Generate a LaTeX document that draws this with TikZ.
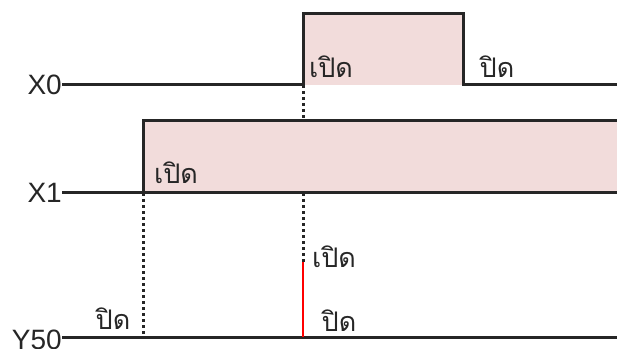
\documentclass[tikz,border=0pt]{standalone}
\usepackage{fontspec}
\setmainfont{Liberation Sans}
\newfontfamily\thaifont[Script=Thai]{Loma}
\definecolor{pulsefill}{HTML}{F2DCDB}
\begin{document}
\begin{tikzpicture}[x=1pt,y=1pt,
  sig/.style={line width=3pt,black!85},
  dotline/.style={line width=3pt,black!85,dash pattern=on 2.6pt off 3.4pt},
  lbl/.style={font=\fontsize{28}{28}\selectfont,inner sep=0pt,anchor=east,text=black!85},
  th/.style={font=\thaifont\fontsize{27}{27}\selectfont,inner sep=0pt,text=black!85}]
\useasboundingbox (0,0) rectangle (617,348);
% signal rows
\coordinate (x0s) at (62,263); \coordinate (x0e) at (617,263);
\coordinate (x1s) at (62,155); \coordinate (x1e) at (617,155);
\coordinate (ys) at (62,11); \coordinate (ye) at (617,11);
% pulses
\fill[pulsefill] (303,263) rectangle (463,334);
\fill[pulsefill] (143,155) rectangle (625,227);
\draw[sig] (x0s) -- (303,263) -- (303,334) -- (463,334) -- (463,263) -- (x0e);
\draw[sig] (x1s) -- (143,155) -- (143,227) -- (625,227);
\draw[sig] (x1s) -- (x1e);
\draw[sig] (ys) -- (ye);
% labels
\node[lbl] (lx0) at (x0s) {X0};
\node[lbl] (lx1) at (x1s) {X1};
\node[lbl,yshift=-3pt] (ly) at (ys) {Y50};
% guide lines
\coordinate (a1) at (303,263); \coordinate (a2) at (303,227);
\coordinate (a3) at (303,155); \coordinate (a4) at (303,86);
\coordinate (a5) at (303,11);
\coordinate (b1) at (143,155); \coordinate (b2) at (143,11);
\draw[dotline] (a1) -- (a2);
\draw[dotline] (a3) -- (a4);
\draw[red,line width=2.6pt] (a4) -- (a5);
\draw[dotline] (b1) -- (b2);
% Thai texts
\node[th] (t1) at (331,281) {เปิด};
\node[th] (t2) at (497,281) {ปิด};
\node[th] (t3) at (176,175) {เปิด};
\node[th] (t4) at (334,91) {เปิด};
\node[th] (t5) at (113,29) {ปิด};
\node[th] (t6) at (339,27) {ปิด};
\end{tikzpicture}
\end{document}
